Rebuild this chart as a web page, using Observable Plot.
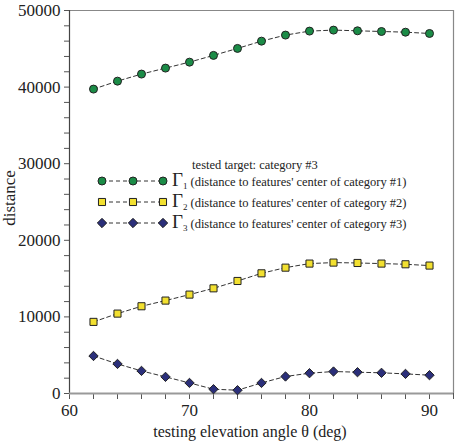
<!DOCTYPE html>
<html><head><meta charset="utf-8">
<script src="https://cdn.jsdelivr.net/npm/d3@7"></script>
<script src="https://cdn.jsdelivr.net/npm/@observablehq/plot@0.6"></script>
<style>body{margin:0;background:#fff}</style>
</head><body><div id="chart"></div>
<script>
const angles = [62,64,66,68,70,72,74,76,78,80,82,84,86,88,90];
const gamma1 = [39740,40780,41700,42480,43260,44140,45050,46000,46790,47310,47440,47350,47260,47170,47000];
const gamma2 = [9350,10430,11390,12130,12910,13730,14690,15690,16430,16960,17090,17040,16960,16870,16700];
const gamma3 = [4900,3860,2950,2170,1380,560,430,1380,2220,2650,2870,2780,2700,2560,2390];
const seriesSubs = ["1","2","3"];
const legendTitle = "tested target: category #3";
const legendLabels = [
  "(distance to features' center of category #1)",
  "(distance to features' center of category #2)",
  "(distance to features' center of category #3)"
];
const xTicks = d3.range(60, 93, 2);
const yTicks = d3.range(0, 50001, 2000);
const xLabel = "testing elevation angle θ (deg)";
const yLabel = "distance";

const FONT = "'Liberation Serif', 'Times New Roman', Times, 'DejaVu Serif', serif";
const fills = ["#1b8c47", "#f2e030", "#2b2f7a"];
const symbols = ["circle", "square", "diamond2"];
const radii = [4, 4, 4.2];
const seriesVals = [gamma1, gamma2, gamma3];
const rows = seriesVals.flatMap((vals, s) => angles.map((a, i) => ({x: a, y: vals[i], s})));

const marks = [
  Plot.ruleY([50000], {stroke: "#888", strokeWidth: 1.2}),
  Plot.ruleX([92], {stroke: "#888", strokeWidth: 1.2}),
  Plot.axisX({ticks: xTicks, tickFormat: d => d % 10 === 0 ? String(d) : "", tickSize: 6, tickPadding: 4, label: null, stroke: "#555", fontFamily: FONT, fontSize: 17}),
  Plot.axisY({ticks: yTicks, tickFormat: d => d % 10000 === 0 ? String(d) : "", tickSize: 5, tickPadding: 4, label: null, stroke: "#555", fontFamily: FONT, fontSize: 17}),
  Plot.ruleX([60], {stroke: "#444", strokeWidth: 1.2}),
  Plot.ruleY([0], {stroke: "#999", strokeWidth: 2})
];
for (let s = 0; s < 3; s++) {
  const d = rows.filter(r => r.s === s);
  marks.push(Plot.line(d, {x: "x", y: "y", stroke: "#333", strokeWidth: 1, strokeDasharray: "4,3"}));
  marks.push(Plot.dot(d, {x: "x", y: "y", symbol: () => symbols[s], r: radii[s], fill: fills[s], stroke: "#222", strokeWidth: 1}));
}

const chart = Plot.plot({
  width: 462, height: 442,
  marginLeft: 69, marginRight: 9, marginTop: 10, marginBottom: 49,
  x: {domain: [60, 92]},
  y: {domain: [0, 50000]},
  symbol: {type: "identity"},
  style: {fontFamily: FONT, fontSize: "17px", color: "#222", background: "#fff"},
  marks
});
document.getElementById("chart").appendChild(chart);

const svg = d3.select(chart);
svg.append("text").attr("x", 250).attr("y", 437).attr("text-anchor", "middle").style("font-family", FONT)
  .attr("font-size", 16).attr("fill", "#222").text(xLabel);
svg.append("text").attr("transform", "translate(15,198) rotate(-90)").attr("text-anchor", "middle").style("font-family", FONT)
  .attr("font-size", 17).attr("fill", "#222").text(yLabel);

const lg = svg.append("g").style("font-family", FONT).attr("fill", "#222").attr("text-anchor", "start");
lg.append("text").attr("x", 255).attr("y", 169).attr("text-anchor", "middle").attr("font-size", 12.5).text(legendTitle);
const rowY = [181, 202, 223];
const mx = [102, 133, 163];
const sym = [d3.symbolCircle, d3.symbolSquare, d3.symbolDiamond2];
for (let s = 0; s < 3; s++) {
  lg.append("line").attr("x1", mx[0]).attr("x2", mx[2]).attr("y1", rowY[s]).attr("y2", rowY[s])
    .attr("stroke", "#333").attr("stroke-dasharray", "4,3");
  for (const x of mx) {
    lg.append("path").attr("d", d3.symbol(sym[s], Math.PI * radii[s] * radii[s])())
      .attr("transform", `translate(${x},${rowY[s]})`).attr("fill", fills[s]).attr("stroke", "#222");
  }
  const t = lg.append("text").attr("x", 172).attr("y", rowY[s] + 5).attr("font-size", 12.5);
  t.append("tspan").attr("font-size", 19).text("Γ");
  t.append("tspan").attr("font-size", 9).attr("dy", 3).text(seriesSubs[s]);
  t.append("tspan").attr("dy", -3).attr("dx", 3).text(legendLabels[s]);
}
</script></body></html>
